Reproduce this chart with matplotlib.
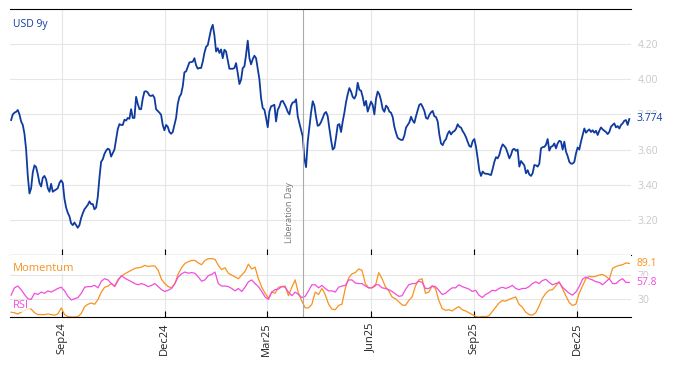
import numpy as np
import pandas as pd
import matplotlib
matplotlib.use('Agg')
import matplotlib.pyplot as plt
import matplotlib.dates as mdates

plt.rcParams['font.family'] = ['Open Sans', 'DejaVu Sans']

# USD 9y swap rate, roughly daily
usd9y = [
    3.768, 3.80, 3.81, 3.815, 3.825, 3.80, 3.76, 3.74, 3.69, 3.60,
    3.45, 3.35, 3.38, 3.47, 3.51, 3.50, 3.46, 3.41, 3.39, 3.44,
    3.45, 3.43, 3.38, 3.36, 3.405, 3.36, 3.367, 3.373, 3.38, 3.41,
    3.425, 3.41, 3.32, 3.27, 3.24, 3.22, 3.18, 3.17, 3.185, 3.17,
    3.155, 3.17, 3.21, 3.237, 3.26, 3.272, 3.285, 3.305, 3.29, 3.29,
    3.26, 3.27, 3.33, 3.44, 3.53, 3.545, 3.575, 3.594, 3.605, 3.60,
    3.56, 3.58, 3.60, 3.66, 3.716, 3.745, 3.74, 3.74, 3.77, 3.765,
    3.78, 3.775, 3.83, 3.78, 3.78, 3.90, 3.86, 3.83, 3.83, 3.89,
    3.93, 3.932, 3.925, 3.908, 3.905, 3.91, 3.895, 3.83, 3.82, 3.81,
    3.798, 3.74, 3.71,
    3.74, 3.73, 3.70, 3.69, 3.70, 3.74, 3.78, 3.86, 3.90, 3.915,
    3.96, 4.04, 4.045, 4.07, 4.096, 4.098, 4.10, 4.12, 4.08, 4.06,
    4.065, 4.064, 4.10, 4.15, 4.185, 4.194, 4.24, 4.285, 4.31, 4.25,
    4.158, 4.177, 4.15, 4.17, 4.12, 4.168, 4.158, 4.11, 4.06, 4.06,
    4.06, 4.064, 4.092, 4.035, 3.973, 3.997, 4.064, 4.073, 4.14, 4.22,
    4.12, 4.085, 4.115, 4.134, 4.12, 4.06, 4.00, 3.893, 3.836, 3.827,
    3.78, 3.727, 3.817, 3.846, 3.85, 3.855, 3.76, 3.826, 3.845, 3.874,
    3.877, 3.86, 3.84, 3.815, 3.80, 3.85, 3.868, 3.87, 3.886, 3.79,
    3.75, 3.713, 3.675, 3.55, 3.50, 3.645, 3.73, 3.81, 3.875, 3.85,
    3.785, 3.735, 3.74,
    3.757, 3.78, 3.805, 3.814, 3.79, 3.72, 3.655, 3.60, 3.61, 3.67,
    3.74, 3.745, 3.70, 3.76, 3.81, 3.87, 3.915, 3.95, 3.93, 3.90,
    3.89, 3.91, 3.98, 3.94, 3.935, 3.90, 3.85, 3.877, 3.816, 3.845,
    3.873, 3.854, 3.80, 3.89, 3.93, 3.914, 3.88, 3.83, 3.815, 3.85,
    3.84, 3.816, 3.81, 3.785, 3.73, 3.695, 3.667, 3.66, 3.655, 3.655,
    3.68, 3.725, 3.74, 3.755, 3.787, 3.765, 3.752, 3.79, 3.824, 3.855,
    3.86, 3.842, 3.82, 3.78, 3.775, 3.798, 3.812, 3.82, 3.79, 3.785,
    3.76, 3.685, 3.635, 3.625, 3.648, 3.66, 3.69, 3.705, 3.686, 3.70,
    3.705, 3.718, 3.744, 3.73, 3.725, 3.705, 3.69, 3.67, 3.644, 3.62,
    3.615, 3.648, 3.66,
    3.615, 3.55, 3.48, 3.45, 3.475, 3.465, 3.462, 3.462, 3.458, 3.455,
    3.49, 3.53, 3.557, 3.55, 3.57, 3.607, 3.63, 3.62, 3.607, 3.58,
    3.55, 3.57, 3.60, 3.604, 3.593, 3.60, 3.503, 3.535, 3.523, 3.51,
    3.465, 3.483, 3.458, 3.45, 3.466, 3.512, 3.51, 3.503, 3.52, 3.607,
    3.614, 3.615, 3.628, 3.66, 3.594, 3.616, 3.62, 3.635, 3.607, 3.635,
    3.65, 3.645, 3.60, 3.645, 3.588, 3.563, 3.53, 3.52, 3.52, 3.53,
    3.578, 3.612, 3.60, 3.645, 3.683, 3.72, 3.696, 3.707, 3.715, 3.70,
    3.71, 3.696, 3.707, 3.683, 3.707, 3.726, 3.715, 3.707, 3.70, 3.688,
    3.70, 3.73, 3.74, 3.749, 3.726, 3.734, 3.72, 3.74, 3.749, 3.764,
    3.768, 3.74, 3.774,
]

# indicators, sampled every ~3 days
momentum = [
    9, 8, 6, 9, 12, 15, 14, 8, 5, 5,
    5, 6, 5, 4, 6, 16, 5, 1.5, 1, 1,
    1.5, 7, 18, 22, 24, 22, 30, 42, 50, 52,
    56, 52, 63, 68, 72, 75, 78, 81, 82, 83,
    86, 84, 85, 85, 78, 63, 56, 51, 49, 56,
    72, 82, 89, 92, 94, 94, 90, 87, 94, 97,
    97, 96, 86,
    79, 82, 73, 70, 67, 64, 70, 76, 88, 80,
    83, 64, 50, 40, 32, 42, 40, 50, 51, 52,
    36, 50, 62, 40, 27, 16, 16, 22, 42, 38,
    48, 38, 22, 14, 13, 20, 22, 48, 65, 72,
    74, 80, 78, 56, 49, 49, 52, 74, 64, 51,
    44, 34, 31, 26, 21, 20, 28, 34, 52, 62,
    64, 40, 42, 52, 48, 28, 15, 12, 13, 11,
    15, 18, 13, 11, 8, 5, 2, 1, 2, 1.5,
    3, 10, 17, 24, 28, 27, 30, 32, 34, 22,
    17, 9, 5, 4, 8, 19, 32, 40, 45, 46,
    52, 59, 48, 36, 25, 20, 22, 40, 52, 64,
    68, 67, 68, 70, 71, 68, 63, 81, 84, 86,
    87, 90, 89.1,
]

rsi = [
    37, 49, 52, 46, 38, 31, 30, 40, 38, 42,
    40, 44, 42, 45, 48, 50, 44, 35, 29, 31,
    33, 40, 50, 51, 51, 53, 49, 60, 64, 62,
    56, 51, 61, 69, 65, 62, 59, 56, 54, 56,
    54, 51, 53, 56, 51, 46, 43, 45, 48, 56,
    67, 72, 75, 73, 74, 73, 67, 60, 62, 69,
    71, 75, 56, 52, 52, 51, 48, 44, 48, 43,
    50, 59, 62, 56, 51, 43, 34, 30, 42, 46,
    47, 51, 50, 42, 36, 42, 38, 33, 35, 44,
    54, 54, 49, 53, 48, 44, 44, 42, 50, 52,
    53, 62, 62, 57, 56, 56, 52, 49, 49, 54,
    54, 49, 48, 46, 43, 39, 35, 36, 46, 54,
    56, 56, 60, 58, 48, 48, 52, 51, 45, 38,
    40, 45, 49, 49, 54, 51, 49, 47, 43, 45,
    37, 33, 38, 41, 45, 44, 48, 50, 48, 50,
    53, 48, 46, 48, 48, 51, 56, 59, 56, 61,
    63, 58, 54, 56, 58, 50, 45, 40, 37, 42,
    51, 63, 67, 64, 62, 59, 58, 54, 59, 64,
    56, 56, 61, 64, 58, 57.8,
]

start, end = '2024-07-18', '2026-01-16'
dates = pd.date_range(start, end, periods=len(usd9y))
ind_dates = pd.date_range(start, end, periods=len(rsi))
lib_day = pd.Timestamp('2025-04-02')

blue = '#0f3b9f'
orange = '#f7931e'
pink = '#f24ddc'
grid_c = '#e6e6e6'
lab_c = '#c8c8c8'

fig = plt.figure(figsize=(6.74, 3.66), dpi=100)
ax = fig.add_axes([10 / 674, 1 - 255 / 366, 621 / 674, 246 / 366])
ax2 = fig.add_axes([10 / 674, 1 - 317 / 366, 621 / 674, 62 / 366], sharex=ax)

# top panel
ax.plot(dates, usd9y, color=blue, lw=1.3)
ax.set_ylim(3.0, 4.4)
ax.set_yticks([3.2, 3.4, 3.6, 3.8, 4.0, 4.2])
ax.yaxis.set_major_formatter(plt.FormatStrFormatter('%.2f'))
ax.yaxis.tick_right()
ax.tick_params(axis='y', length=0, pad=5, labelsize=7.5, labelcolor=lab_c)
ax.tick_params(axis='x', direction='in', length=4, labelbottom=False, color='black')
for s in ['left', 'right']:
    ax.spines[s].set_visible(False)
ax.grid(True, color=grid_c, lw=0.8)
ax.set_axisbelow(True)
ax.text(0.005, 0.935, 'USD 9y', transform=ax.transAxes, color=blue, fontsize=7.5, va='center')
ax.annotate('%.3f' % usd9y[-1], xy=(1, usd9y[-1]), xycoords=('axes fraction', 'data'),
            xytext=(4, 0), textcoords='offset points', va='center', ha='left',
            color=blue, fontsize=7.5, bbox=dict(fc='white', ec='none', pad=0.5))

ax.axvline(lib_day, color='#aaaaaa', lw=0.8)
ax.annotate('Liberation Day', xy=(lib_day, 3.07), xytext=(-6, 0), textcoords='offset points',
            rotation=90, ha='right', va='bottom', color='#777777', fontsize=6.5)

# lower panel
ax2.plot(ind_dates, momentum, color=orange, lw=0.9)
ax2.plot(ind_dates, rsi, color=pink, lw=0.9)
ax2.set_ylim(1, 103)
ax2.set_yticks([30, 70])
ax2.yaxis.tick_right()
ax2.tick_params(axis='y', length=0, pad=5, labelsize=7.5, labelcolor=lab_c)
ax2.tick_params(axis='x', direction='in', length=4, labelsize=8, labelcolor='#222222',
                labelrotation=90, pad=4)
for s in ['left', 'right', 'top']:
    ax2.spines[s].set_visible(False)
ax2.grid(True, color=grid_c, lw=0.8)
ax2.set_axisbelow(True)
ax2.axvline(lib_day, color='#aaaaaa', lw=0.8)

ax2.xaxis.set_major_locator(mdates.MonthLocator(bymonth=[3, 6, 9, 12]))
ax2.xaxis.set_major_formatter(mdates.DateFormatter('%b%y'))
ax2.set_xlim(dates[0] - pd.Timedelta(days=1), dates[-1] + pd.Timedelta(days=1.5))

box = dict(fc='white', ec='none', alpha=0.75, pad=0.5)
ax2.text(0.005, 0.79, 'Momentum', transform=ax2.transAxes, color=orange, fontsize=8, va='center', bbox=box)
ax2.text(0.005, 0.18, 'RSI', transform=ax2.transAxes, color=pink, fontsize=8, va='center', bbox=box)
for val, col in [(momentum[-1], orange), (rsi[-1], pink)]:
    ax2.annotate('%.1f' % val, xy=(1, val), xycoords=('axes fraction', 'data'),
                 xytext=(4, 0), textcoords='offset points', va='center', ha='left',
                 color=col, fontsize=7.5, bbox=dict(fc='white', ec='none', pad=0.5))

fig.savefig('out.png', dpi=100)
